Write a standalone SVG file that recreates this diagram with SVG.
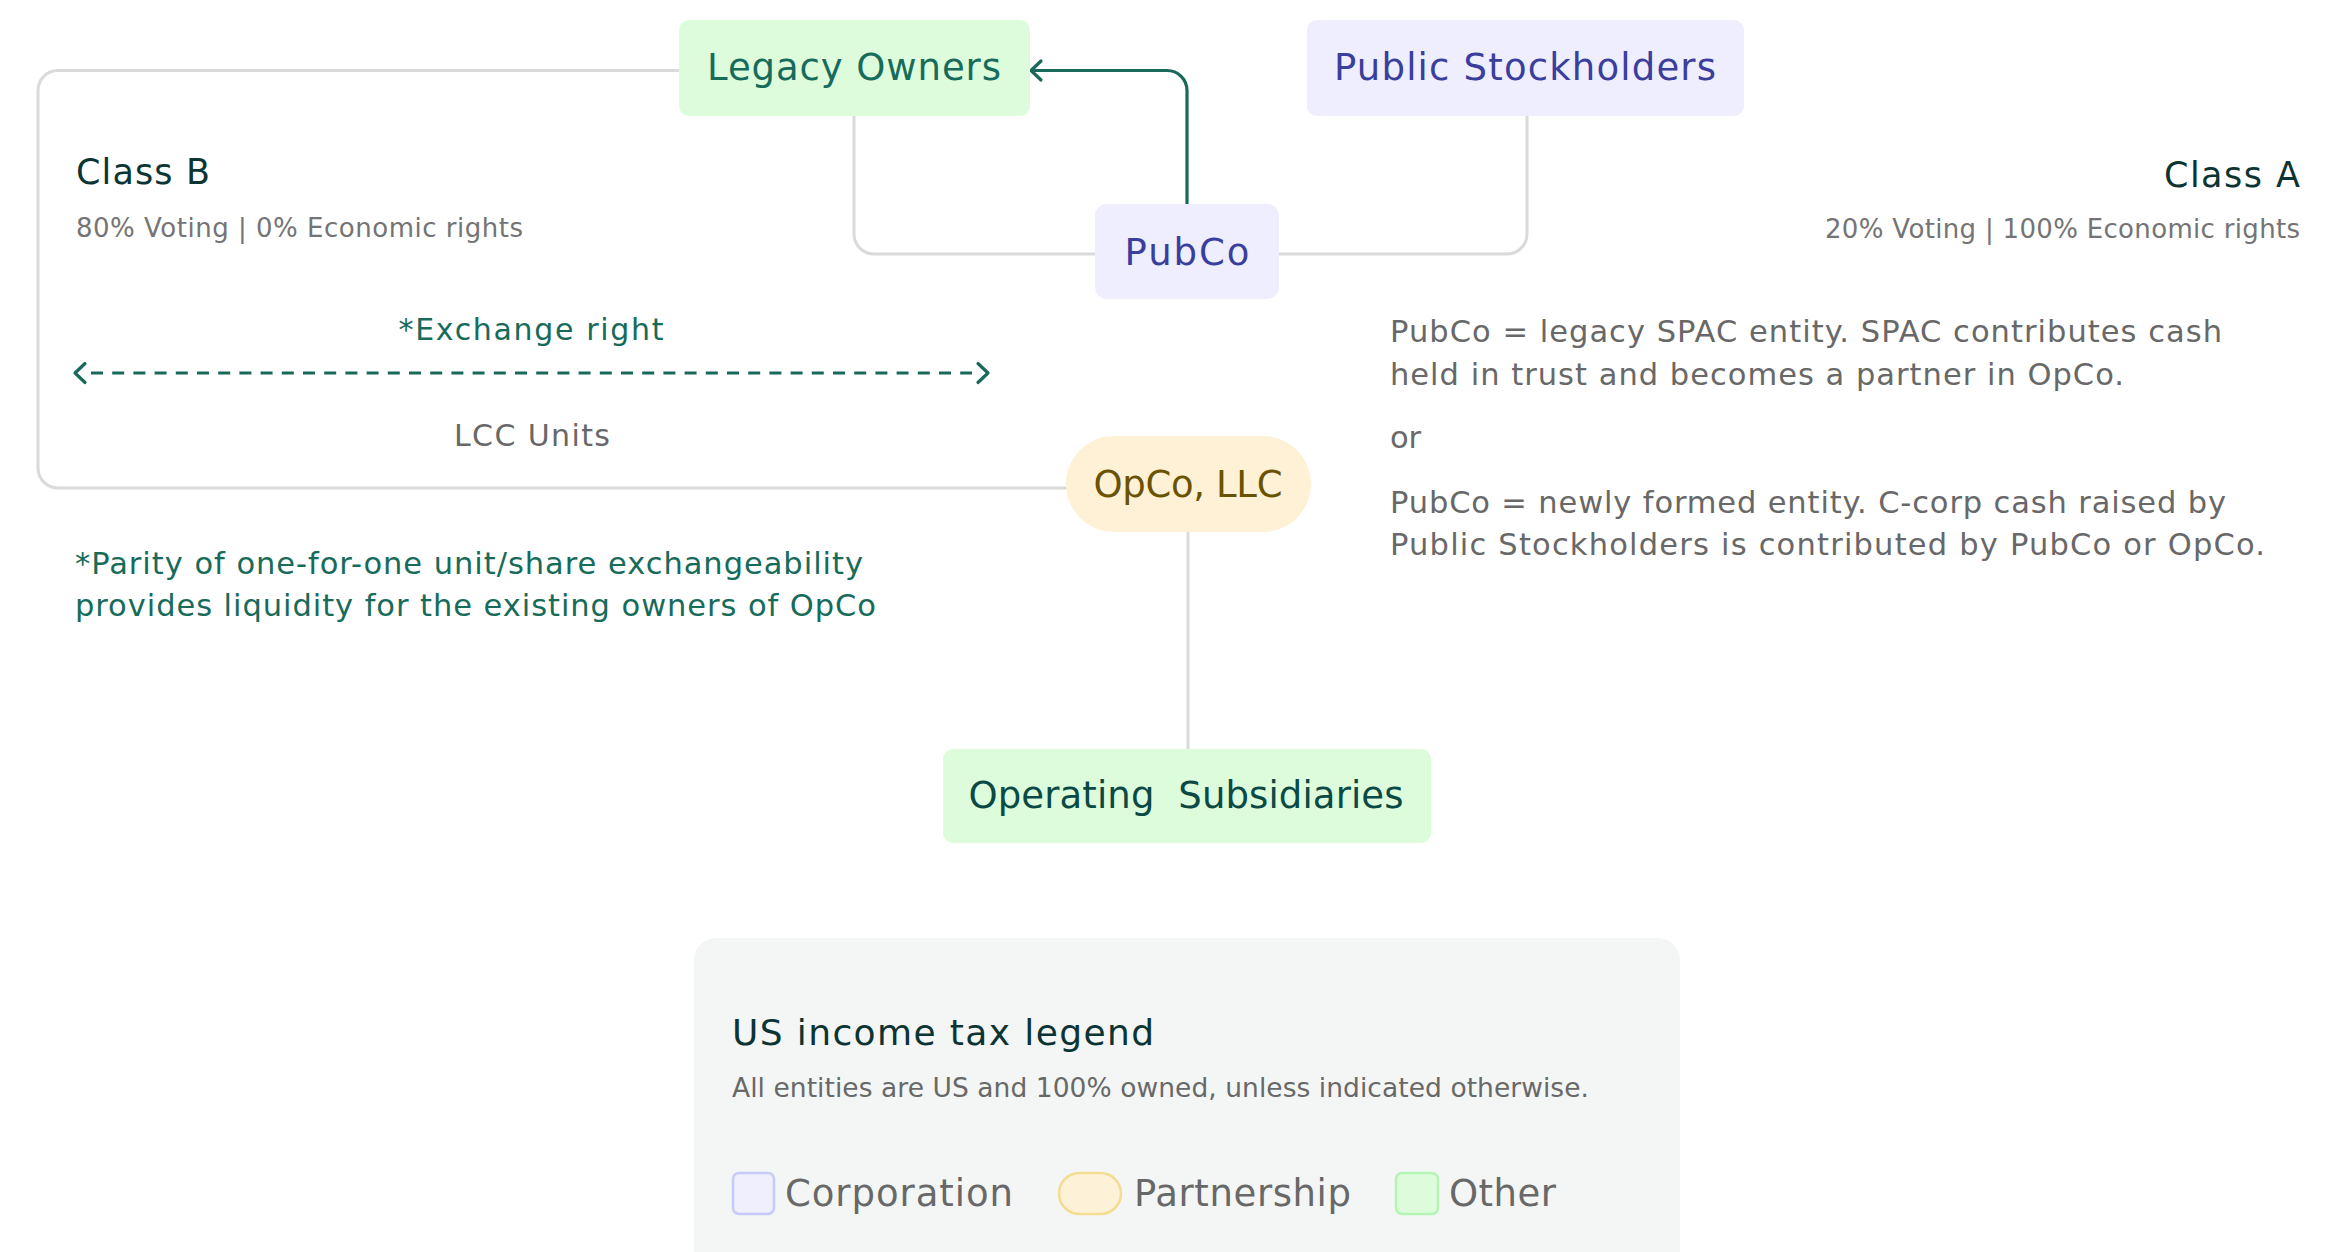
<svg xmlns="http://www.w3.org/2000/svg" width="2351" height="1252" viewBox="0 0 2351 1252">
  <style>
    text { font-family: "DejaVu Sans", "Noto Sans", sans-serif; }
    .node-label { font-size: 37px; text-anchor: middle; }
    .green-fill { fill: #ddfcdc; }
    .corp-fill { fill: #efeefe; }
    .part-fill { fill: #fff1d6; }
    .t-green { fill: #176b5a; }
    .t-deep { fill: #0b4a44; }
    .t-indigo { fill: #3a3e9d; }
    .t-olive { fill: #6a5300; }
    .t-head { fill: #0c3434; }
    .t-body { fill: #686868; }
    .t-light { fill: #747474; }
    .link-gray { fill: none; stroke: #dadada; stroke-width: 3; }
    .link-green { fill: none; stroke: #19695a; stroke-width: 3.2; }
    .link-dash { fill: none; stroke: #19695a; stroke-width: 3.2; stroke-dasharray: 12 9.2; }
  </style>
  <defs>
    <!-- open chevron whose tip sits on the path end -->
    <marker id="head-tip" markerUnits="userSpaceOnUse" orient="auto-start-reverse" refX="0" refY="0" markerWidth="20" markerHeight="24" overflow="visible">
      <path d="M-10,-9.5 L0,0 L-10,9.5" fill="none" stroke="#19695a" stroke-width="3.2" stroke-linecap="round" stroke-linejoin="round"/>
    </marker>
    <!-- open chevron set a little ahead of the path end (for dashed lines) -->
    <marker id="head-ahead" markerUnits="userSpaceOnUse" orient="auto-start-reverse" refX="0" refY="0" markerWidth="20" markerHeight="24" overflow="visible">
      <path d="M6,-9.5 L16,0 L6,9.5" fill="none" stroke="#19695a" stroke-width="3.2" stroke-linecap="round" stroke-linejoin="round"/>
    </marker>
  </defs>

  <rect x="0" y="0" width="2351" height="1252" fill="#ffffff"/>

  <!-- connectors -->
  <g id="connectors">
    <!-- Class B bracket: Legacy Owners around to OpCo -->
    <path class="link-gray" d="M 680 70.5 H 58 A 20 20 0 0 0 38 90.5 V 468 A 20 20 0 0 0 58 488 H 1072"/>
    <!-- Legacy Owners to PubCo -->
    <path class="link-gray" d="M 854 115 V 234 A 20 20 0 0 0 874 254 H 1097"/>
    <!-- PubCo to Public Stockholders -->
    <path class="link-gray" d="M 1277 254 H 1507 A 20 20 0 0 0 1527 234 V 115"/>
    <!-- OpCo to Operating Subsidiaries -->
    <path class="link-gray" d="M 1188 530 V 751"/>
    <!-- PubCo back to Legacy Owners -->
    <path class="link-green" d="M 1187 205 V 90.5 A 20 20 0 0 0 1167 70.5 H 1031" marker-end="url(#head-tip)"/>
    <!-- exchange right -->
    <path class="link-dash" d="M 91 373 H 972" marker-start="url(#head-ahead)" marker-end="url(#head-ahead)"/>
  </g>

  <!-- nodes -->
  <g id="legacy-owners">
    <rect class="green-fill" x="679" y="20" width="351" height="96" rx="10"/>
    <text class="node-label t-green" x="854" y="80" textLength="294">Legacy Owners</text>
  </g>
  <g id="public-stockholders">
    <rect class="corp-fill" x="1307" y="20" width="437" height="96" rx="10"/>
    <text class="node-label t-indigo" x="1525" y="80" textLength="382">Public Stockholders</text>
  </g>
  <g id="pubco">
    <rect class="corp-fill" x="1095" y="204" width="184" height="95" rx="12"/>
    <text class="node-label t-indigo" x="1187" y="265" textLength="125">PubCo</text>
  </g>
  <g id="opco">
    <rect class="part-fill" x="1066" y="436" width="245" height="96" rx="48"/>
    <text class="node-label t-olive" x="1188" y="497" textLength="189">OpCo, LLC</text>
  </g>
  <g id="operating-subsidiaries">
    <rect class="green-fill" x="943" y="749" width="488" height="94" rx="10"/>
    <text class="node-label t-deep" x="1186" y="808" textLength="435" xml:space="preserve">Operating  Subsidiaries</text>
  </g>

  <!-- Class B annotation -->
  <g id="class-b">
    <text class="t-head" x="76" y="184" font-size="35" textLength="134">Class B</text>
    <text class="t-light" x="76" y="237" font-size="26" textLength="447">80% Voting | 0% Economic rights</text>
  </g>

  <!-- Class A annotation -->
  <g id="class-a">
    <text class="t-head" x="2300" y="187" font-size="35" text-anchor="end" textLength="136">Class A</text>
    <text class="t-light" x="2300" y="238" font-size="26" text-anchor="end" textLength="475">20% Voting | 100% Economic rights</text>
  </g>

  <!-- exchange right labels -->
  <g id="exchange-labels">
    <text class="t-green" x="531" y="340" font-size="30" text-anchor="middle" textLength="265">*Exchange right</text>
    <text class="t-body" x="532" y="446" font-size="30" text-anchor="middle" textLength="156">LCC Units</text>
  </g>

  <!-- PubCo notes -->
  <g id="pubco-notes" font-size="30.5">
    <text class="t-body" x="1390" y="342" textLength="832">PubCo = legacy SPAC entity. SPAC contributes cash</text>
    <text class="t-body" x="1390" y="385" textLength="734">held in trust and becomes a partner in OpCo.</text>
    <text class="t-body" x="1390" y="448" textLength="31">or</text>
    <text class="t-body" x="1390" y="513" textLength="836">PubCo = newly formed entity. C-corp cash raised by</text>
    <text class="t-body" x="1390" y="555" textLength="875">Public Stockholders is contributed by PubCo or OpCo.</text>
  </g>

  <!-- parity footnote -->
  <g id="parity-note" font-size="30.5">
    <text class="t-green" x="75" y="574" textLength="788">*Parity of one-for-one unit/share exchangeability</text>
    <text class="t-green" x="75" y="616" textLength="801">provides liquidity for the existing owners of OpCo</text>
  </g>

  <!-- legend -->
  <g id="legend">
    <rect x="694" y="938" width="986" height="340" rx="22" fill="#f4f6f5"/>
    <text class="t-head" x="732" y="1045" font-size="36" textLength="422">US income tax legend</text>
    <text class="t-body" x="732" y="1097" font-size="26.5" textLength="857">All entities are US and 100% owned, unless indicated otherwise.</text>
    <rect x="733" y="1173" width="41" height="41" rx="6" fill="#efeffe" stroke="#c8cafa" stroke-width="2.5"/>
    <text class="t-body" x="785" y="1206" font-size="37" textLength="228">Corporation</text>
    <rect x="1059" y="1173" width="62" height="41" rx="20.5" fill="#fdf2d8" stroke="#f4dd92" stroke-width="2.5"/>
    <text class="t-body" x="1134" y="1206" font-size="37" textLength="217">Partnership</text>
    <rect x="1396" y="1173" width="42" height="41" rx="6" fill="#ddfcdc" stroke="#b4f5b4" stroke-width="2.5"/>
    <text class="t-body" x="1449" y="1206" font-size="37" textLength="107">Other</text>
  </g>
</svg>
